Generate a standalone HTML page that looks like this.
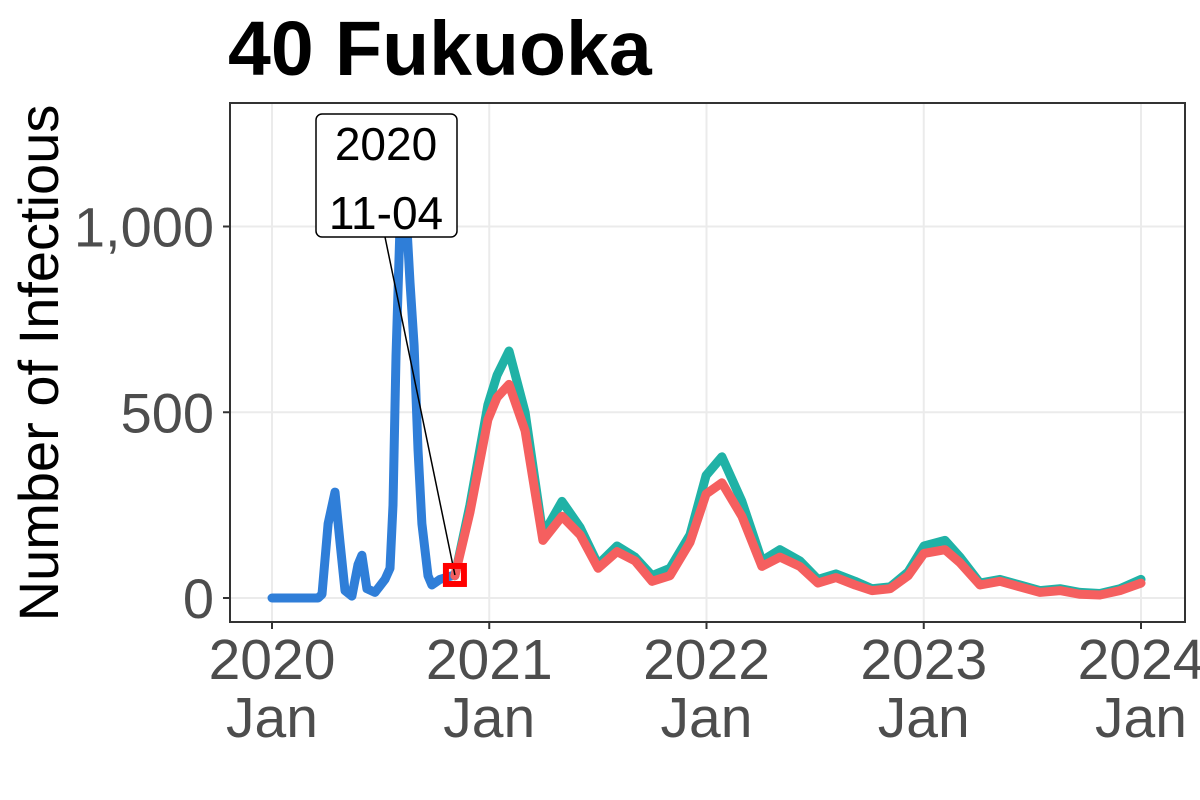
<!DOCTYPE html>
<html><head><meta charset="utf-8"><style>
body{margin:0;background:#fff}
svg{display:block;font-family:"Liberation Sans",Arial,sans-serif}
</style></head><body>
<svg id="chart" width="1200" height="800">
<text x="228" y="75" font-size="77" font-weight="bold" fill="#000">40 Fukuoka</text>
<text transform="translate(58,363) rotate(-90)" text-anchor="middle" font-size="56" fill="#000">Number of Infectious</text>
<g id="grid"></g><g id="series"></g><g id="axes"></g><g id="annot"></g>
</svg>
<script>
const yTicks=[0,500,1000];
const yTickLabels=["0","500","1,000"];
const xTicks=[0,1,2,3,4];
const xTickLabels=["2020","2021","2022","2023","2024"];
const blueT=[0,0.212,0.230,0.258,0.290,0.313,0.336,0.368,0.396,0.414,0.437,0.474,0.520,0.543,0.557,0.571,0.589,0.608,0.621,0.635,0.654,0.672,0.690,0.718,0.736,0.773,0.829,0.842];
const blueV=[0,0,10,200,285,150,20,5,90,115,25,15,50,80,250,650,1000,1100,1000,850,680,400,200,60,35,50,60,62];
const fcT=[0.842,0.911,0.994,1.036,1.091,1.165,1.247,1.335,1.418,1.501,1.588,1.671,1.749,1.832,1.924,1.998,2.071,2.163,2.255,2.338,2.430,2.513,2.596,2.684,2.762,2.845,2.928,3.001,3.098,3.167,3.259,3.351,3.443,3.535,3.627,3.719,3.811,3.903,4.0];
const tealV=[60,250,520,600,665,500,170,260,190,90,140,110,60,80,170,330,380,260,100,130,100,50,65,45,25,30,70,140,155,110,40,50,35,20,25,15,12,25,50];
const redV=[60,230,480,540,575,450,155,220,170,80,125,100,45,60,150,280,310,220,85,110,85,40,55,35,20,25,60,120,130,95,35,45,30,15,20,10,8,20,40];
const markT=0.842, markV=62;

const NS="http://www.w3.org/2000/svg";
const X0=230,X1=1185,Y0=103,Y1=622;
const xs=t=>272+t*217.25;
const ys=v=>598-v*0.3715;
function mk(parent,tag,attrs){const e=document.createElementNS(NS,tag);for(const k in attrs)e.setAttribute(k,attrs[k]);document.getElementById(parent).appendChild(e);return e;}
let e=mk('grid','rect',{x:X0,y:Y0,width:X1-X0,height:Y1-Y0,fill:'#fff'});


yTicks.forEach((v,i)=>{
 let g=mk('grid','line',{x1:X0,x2:X1,y1:ys(v),y2:ys(v),stroke:'#ebebeb','stroke-width':2});
 
 
 let t=mk('axes','line',{x1:X0-7,x2:X0,y1:ys(v),y2:ys(v),stroke:'#333','stroke-width':2});
 
 
 let l=mk('axes','text',{x:X0-16,y:ys(v)+20,'text-anchor':'end','font-size':56,fill:'#4d4d4d'});
 l.textContent=yTickLabels[i];
 
 
});
xTicks.forEach((v,i)=>{
 let g=mk('grid','line',{x1:xs(v),x2:xs(v),y1:Y0,y2:Y1,stroke:'#ebebeb','stroke-width':2});
 
 
 let t=mk('axes','line',{x1:xs(v),x2:xs(v),y1:Y1,y2:Y1+7,stroke:'#333','stroke-width':2});
 
 
 let l=mk('axes','text',{x:xs(v),y:679,'text-anchor':'middle','font-size':57,fill:'#4d4d4d'});
 l.textContent=xTickLabels[i];
 
 
 let m=mk('axes','text',{x:xs(v),y:737,'text-anchor':'middle','font-size':57,fill:'#4d4d4d'});
 m.textContent='Jan';
 
 
});
function path(T,V,color,name){
 const d=T.map((t,i)=>(i?'L':'M')+xs(t).toFixed(1)+','+ys(V[i]).toFixed(1)).join('');
 const p=mk('series','path',{d:d,fill:'none',stroke:color,'stroke-width':9,'stroke-linejoin':'round','stroke-linecap':'round'});
 
 
}
path(blueT,blueV,'#2f7ed8','observed-line');
path(fcT,tealV,'#20b2a6','upper-projection-line');
path(fcT,redV,'#f55f5f','lower-projection-line');
let b=mk('axes','rect',{x:X0,y:Y0,width:X1-X0,height:Y1-Y0,fill:'none',stroke:'#333','stroke-width':2});


let ln=mk('annot','line',{x1:385,y1:237,x2:xs(markT),y2:ys(markV),stroke:'#000','stroke-width':1.5});


let sq=mk('annot','rect',{x:xs(markT)-9,y:ys(markV)-9,width:18,height:18,fill:'none',stroke:'#ff0000','stroke-width':6});


let bx=mk('annot','rect',{x:316,y:114,width:141,height:123,rx:6,fill:'#fff',stroke:'#000','stroke-width':1.5});


let t1=mk('annot','text',{x:386,y:160,'text-anchor':'middle','font-size':46,fill:'#000'});
t1.textContent='2020';


let t2=mk('annot','text',{x:386,y:229,'text-anchor':'middle','font-size':46,fill:'#000'});
t2.textContent='11-04';


</script>
</body></html>
